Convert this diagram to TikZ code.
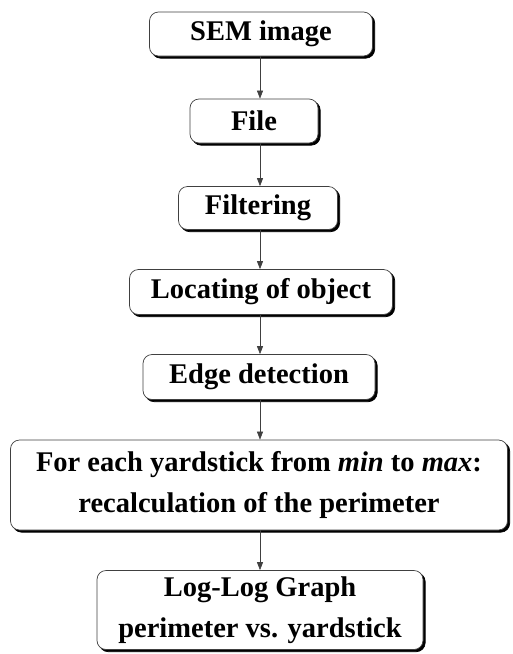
\documentclass[tikz,border=0pt]{standalone}
\usepackage{fontspec}
\setmainfont{Liberation Serif}
\usetikzlibrary{shadows,arrows.meta}
\begin{document}
\begin{tikzpicture}[x=1pt,y=-1pt,
  flowbox/.style={rectangle, rounded corners=9pt, draw=black!75, line width=0.7pt, fill=white,
    align=center, inner sep=0pt, font=\fontsize{28.5}{41}\selectfont\bfseries,
    copy shadow={shadow xshift=2.2pt, shadow yshift=-2.2pt, fill=black, draw=black}},
  arr/.style={draw=black!75, line width=0.6pt, -{Triangle[length=8pt,width=6pt]}}]
\useasboundingbox (0,0) rectangle (512,654);
\node[flowbox, minimum width=223pt, minimum height=44pt] (b1) at (261,34) {SEM image};
\node[flowbox, minimum width=128pt, minimum height=44pt] (b2) at (254,121) {File};
\node[flowbox, minimum width=159pt, minimum height=43pt] (b3) at (258,208) {Filtering};
\node[flowbox, minimum width=263pt, minimum height=45pt] (b4) at (261,292) {Locating of object};
\node[flowbox, minimum width=232pt, minimum height=45pt] (b5) at (259,377) {Edge detection};
\node[flowbox, minimum width=497pt, minimum height=90pt] (b6) at (259,485) {For each yardstick from \textit{min} to \textit{max}:\\recalculation of the perimeter};
\node[flowbox, minimum width=326pt, minimum height=79pt] (b7) at (260,610) {Log-Log Graph\\perimeter vs. yardstick};
\coordinate (ax) at (260,0);
\draw[arr] (b1.south -| ax) -- (b2.north -| ax);
\draw[arr] (b2.south -| ax) -- (b3.north -| ax);
\draw[arr] (b3.south -| ax) -- (b4.north -| ax);
\draw[arr] (b4.south -| ax) -- (b5.north -| ax);
\draw[arr] (b5.south -| ax) -- (b6.north -| ax);
\draw[arr] (b6.south -| ax) -- (b7.north -| ax);
\end{tikzpicture}
\end{document}
